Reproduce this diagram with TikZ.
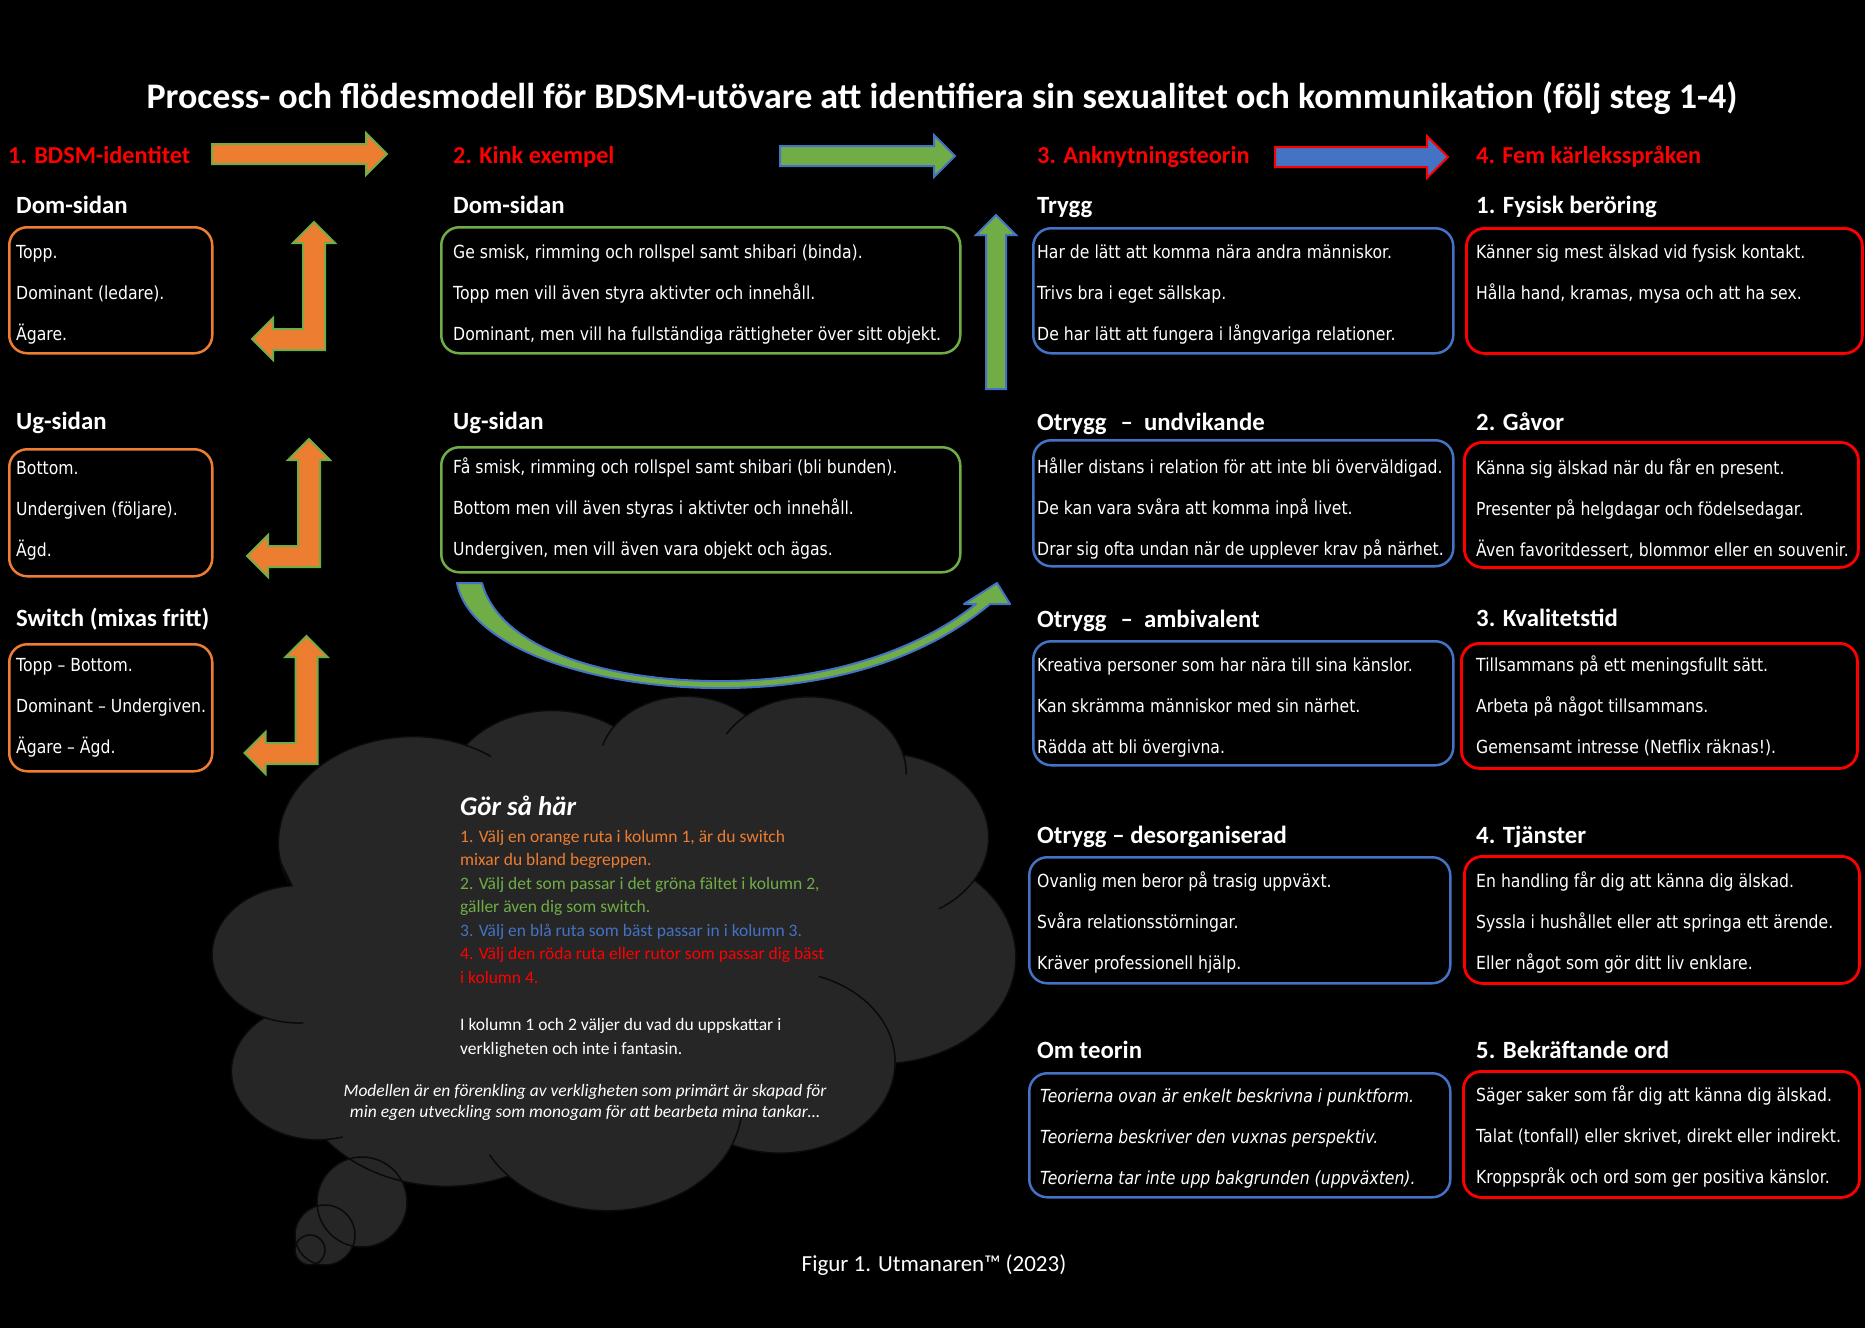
\documentclass[tikz,border=0pt]{standalone}
\usepackage{fontspec}
\setmainfont{Carlito}
\newfontfamily\bxf{DejaVu Sans}[FakeStretch=0.87]
\usetikzlibrary{calc}
\definecolor{orC}{HTML}{ED7D31}
\definecolor{grC}{HTML}{70AD47}
\definecolor{blC}{HTML}{4472C4}
\definecolor{rdC}{HTML}{FF0000}
\definecolor{clC}{HTML}{262626}
\definecolor{clL}{HTML}{0A0A0A}
\newcommand\threelines[6]{%
  \node[btxt] (#1a) at (#2,#3) {#4};
  \node[btxt] (#1b) at (#2,#3+41) {#5};
  \node[btxt] (#1c) at (#2,#3+82) {#6};}
\newcommand\cloudstub[6]{%
  \draw[stubline,shift={(#1,#2)}] (#5:#3 and #4) arc[start angle=#5,delta angle=#6,x radius=#3,y radius=#4];}
\begin{document}
\begin{tikzpicture}[x=1pt,y=-1pt,
  btxt/.style={text=white,font=\bxf\fontsize{18}{22}\selectfont,inner sep=0pt,anchor=base west},
  hd/.style={text=white,font=\bfseries\fontsize{24.8}{29}\selectfont,inner sep=0pt,anchor=base west},
  colhd/.style={text=rdC,font=\bfseries\fontsize{24.3}{29}\selectfont,inner sep=0pt,anchor=base west},
  ibox/.style={rounded corners=18pt,line width=2.5pt,anchor=north west,inner sep=0pt},
  blockarr/.style={line width=2pt,line join=miter},
  ctxt/.style={font=\fontsize{17.5}{21}\selectfont,inner sep=0pt,anchor=base west},
  itxt/.style={font=\itshape\fontsize{17.5}{21}\selectfont,inner sep=0pt,anchor=base,text=white},
  stubline/.style={draw=clL,line width=1.5pt},
  cloudfill/.style={fill=clC},
]
\fill[black] (0,0) rectangle (1865,1328);
\useasboundingbox (0,0) rectangle (1865,1328);

% ---------- cloud (thought bubble) ----------
\fill[clC] (362,1202) circle (45);
\fill[clC] (325,1235) circle (30);
\fill[clC] (310,1250) circle (15);
\begin{scope}[shift={(203,696)},x=1.99pt,y=-1.157pt]
\path[cloudfill,draw=clL,line width=1.5pt] (39,143.7)
  arc[start angle=-190.49,delta angle=123.78,x radius=67.53,y radius=91.90]
  arc[start angle=-144.10,delta angle=89.95,x radius=53.33,y radius=72.67]
  arc[start angle=-145.81,delta angle=99.72,x radius=43.65,y radius=59.45]
  arc[start angle=-130.99,delta angle=117.24,x radius=48.57,y radius=65.95]
  arc[start angle=-78.71,delta angle=109.03,x radius=53.33,y radius=72.73]
  arc[start angle=-46.27,delta angle=130.27,x radius=67.75,y radius=92.20]
  arc[start angle=0.625,delta angle=114.03,x radius=57.85,y radius=78.67]
  arc[start angle=22.45,delta angle=115.17,x radius=67.52,y radius=92.15]
  arc[start angle=66.24,delta angle=75.71,x radius=77.20,y radius=105.43]
  arc[start angle=-274.94,delta angle=146.74,x radius=43.60,y radius=59.18]
  arc[start angle=-246.83,delta angle=152.52,x radius=43.45,y radius=59.45]
  -- cycle;
\cloudstub{48.02}{223.19}{43.45}{59.45}{86.74}{26.43}
\cloudstub{57.88}{324.35}{43.60}{59.18}{73.61}{11.45}
\cloudstub{203.41}{352.72}{67.52}{92.15}{137.62}{14.08}
\cloudstub{203.41}{352.72}{67.52}{92.15}{6.45}{16.0}
\cloudstub{289.95}{316.41}{57.85}{78.67}{-70.29}{70.92}
\cloudstub{341.53}{122.26}{53.33}{72.73}{30.32}{27.75}
\cloudstub{304.79}{66.62}{48.57}{65.95}{-13.74}{14.86}
\cloudstub{304.79}{66.62}{48.57}{65.95}{-149.18}{18.2}
\cloudstub{242.65}{59.68}{43.65}{59.45}{-163.49}{17.69}
\cloudstub{105.40}{126.97}{67.53}{91.90}{-66.71}{12.32}
\cloudstub{105.40}{126.97}{67.53}{91.90}{157.65}{11.86}
\end{scope}
\draw[stubline] (362,1202) circle (45);
\draw[stubline] (325,1235) circle (30);
\draw[stubline] (310,1250) circle (15);

% ---------- title ----------
\node[text=white,font=\bfseries\fontsize{36}{42}\selectfont,inner sep=0pt,anchor=base] (title) at (942,108)
  {Process- och flödesmodell för BDSM-utövare att identifiera sin sexualitet och kommunikation (följ steg 1-4)};

% ---------- column headers ----------
\node[colhd] (h1) at (8,163) {1. BDSM-identitet};
\node[colhd] (h2) at (453,163) {2. Kink exempel};
\node[colhd] (h3) at (1037,163) {3. Anknytningsteorin};
\node[colhd] (h4) at (1476,163) {4. Fem kärleksspråken};

% ---------- straight block arrows ----------
\filldraw[blockarr,fill=orC,draw=grC] (212,144) -- (366,144) -- (366,133) -- (387,154) -- (366,175) -- (366,164) -- (212,164) -- cycle;
\filldraw[blockarr,fill=grC,draw=blC] (780,146) -- (934,146) -- (934,135) -- (955,156) -- (934,177) -- (934,166) -- (780,166) -- cycle;
\filldraw[blockarr,fill=blC,draw=rdC] (1275,147) -- (1427,147) -- (1427,136) -- (1448,157) -- (1427,178) -- (1427,167) -- (1275,167) -- cycle;
\filldraw[blockarr,fill=grC,draw=blC] (986,389) -- (986,235) -- (976,235) -- (996,215) -- (1016,235) -- (1006,235) -- (1006,389) -- cycle;

% ---------- bent arrows ----------
\foreach \bx/\by in {314/222, 309/439, 306.5/636}{
  \filldraw[blockarr,fill=orC,draw=grC,shift={(\bx,\by)}]
    (0,0) -- (21,21) -- (11,21) -- (11,128) -- (-41,128) -- (-41,138) -- (-62,117)
    -- (-41,96) -- (-41,107) -- (-11,107) -- (-11,21) -- (-21,21) -- cycle;
}

% ---------- curved arrow ----------
\filldraw[blockarr,fill=grC,draw=blC,line join=round]
  (457,583) .. controls (470,650) and (600,690) .. (730,688)
  .. controls (850,686) and (935,650) .. (990,604)
  -- (1010,604) -- (997,583) -- (964,604) -- (976,604)
  .. controls (925,645) and (840,679) .. (730,681)
  .. controls (610,683) and (500,650) .. (482,583) -- cycle;

% ---------- column 1 ----------
\node[hd] (s11) at (16,213) {Dom-sidan};
\node[ibox,draw=orC,minimum width=203pt,minimum height=126pt] (b11) at (8,226) {};
\threelines{t11}{16}{258}{Topp.}{Dominant (ledare).}{Ägare.}
\node[hd] (s12) at (16,429) {Ug-sidan};
\node[ibox,draw=orC,minimum width=203pt,minimum height=127pt] (b12) at (8,448) {};
\threelines{t12}{16}{474}{Bottom.}{Undergiven (följare).}{Ägd.}
\node[hd] (s13) at (16,626) {Switch (mixas fritt)};
\node[ibox,draw=orC,minimum width=203pt,minimum height=127pt] (b13) at (8,643) {};
\threelines{t13}{16}{671}{Topp – Bottom.}{Dominant – Undergiven.}{Ägare – Ägd.}

% ---------- column 2 ----------
\node[hd] (s21) at (453,213) {Dom-sidan};
\node[ibox,draw=grC,minimum width=519pt,minimum height=126pt] (b21) at (440,226) {};
\threelines{t21}{453}{258}{Ge smisk, rimming och rollspel samt shibari (binda).}{Topp men vill även styra aktivter och innehåll.}{Dominant, men vill ha fullständiga rättigheter över sitt objekt.}
\node[hd] (s22) at (453,429) {Ug-sidan};
\node[ibox,draw=grC,minimum width=519pt,minimum height=125pt] (b22) at (440,446) {};
\threelines{t22}{453}{473}{Få smisk, rimming och rollspel samt shibari (bli bunden).}{Bottom men vill även styras i aktivter och innehåll.}{Undergiven, men vill även vara objekt och ägas.}

% ---------- column 3 ----------
\node[hd] (s31) at (1037,213) {Trygg};
\node[ibox,draw=blC,minimum width=420pt,minimum height=125pt] (b31) at (1032,227) {};
\threelines{t31}{1037}{258}{Har de lätt att komma nära andra människor.}{Trivs bra i eget sällskap.}{De har lätt att fungera i långvariga relationer.}
\node[hd] (s32) at (1037,430) {Otrygg\hspace{14pt}–\hspace{11pt}undvikande};
\node[ibox,draw=blC,minimum width=420pt,minimum height=126pt] (b32) at (1032,439) {};
\threelines{t32}{1037}{473}{Håller distans i relation för att inte bli överväldigad.}{De kan vara svåra att komma inpå livet.}{Drar sig ofta undan när de upplever krav på närhet.}
\node[hd] (s33) at (1037,627) {Otrygg\hspace{14pt}–\hspace{11pt}ambivalent};
\node[ibox,draw=blC,minimum width=420pt,minimum height=124pt] (b33) at (1032,640) {};
\threelines{t33}{1037}{671}{Kreativa personer som har nära till sina känslor.}{Kan skrämma människor med sin närhet.}{Rädda att bli övergivna.}
\node[hd] (s34) at (1037,843) {Otrygg – desorganiserad};
\node[ibox,draw=blC,minimum width=421pt,minimum height=126pt] (b34) at (1028,856) {};
\threelines{t34}{1037}{887}{Ovanlig men beror på trasig uppväxt.}{Svåra relationsstörningar.}{Kräver professionell hjälp.}
\node[hd] (s35) at (1037,1058) {Om teorin};
\node[ibox,draw=blC,minimum width=421pt,minimum height=124pt] (b35) at (1028,1072) {};
\threelines{t35}{1040}{1102}{\itshape Teorierna ovan är enkelt beskrivna i punktform.}{\itshape Teorierna beskriver den vuxnas perspektiv.}{\itshape Teorierna tar inte upp bakgrunden (uppväxten).}

% ---------- column 4 ----------
\node[hd] (s41) at (1476,213) {1. Fysisk beröring};
\node[ibox,draw=rdC,line width=2.8pt,minimum width=396pt,minimum height=125pt] (b41) at (1465,227) {};
\threelines{t41}{1476}{258}{Känner sig mest älskad vid fysisk kontakt.}{Hålla hand, kramas, mysa och att ha sex.}{}
\node[hd] (s42) at (1476,430) {2. Gåvor};
\node[ibox,draw=rdC,line width=2.8pt,minimum width=394pt,minimum height=125pt] (b42) at (1463,441) {};
\threelines{t42}{1476}{474}{Känna sig älskad när du får en present.}{Presenter på helgdagar och födelsedagar.}{Även favoritdessert, blommor eller en souvenir.}
\node[hd] (s43) at (1476,626) {3. Kvalitetstid};
\node[ibox,draw=rdC,line width=2.8pt,minimum width=396pt,minimum height=125pt] (b43) at (1460,642) {};
\threelines{t43}{1476}{671}{Tillsammans på ett meningsfullt sätt.}{Arbeta på något tillsammans.}{Gemensamt intresse (Netflix räknas!).}
\node[hd] (s44) at (1476,843) {4. Tjänster};
\node[ibox,draw=rdC,line width=2.8pt,minimum width=395pt,minimum height=127pt] (b44) at (1463,855) {};
\threelines{t44}{1476}{887}{En handling får dig att känna dig älskad.}{Syssla i hushållet eller att springa ett ärende.}{Eller något som gör ditt liv enklare.}
\node[hd] (s45) at (1476,1058) {5. Bekräftande ord};
\node[ibox,draw=rdC,line width=2.8pt,minimum width=396pt,minimum height=126pt] (b45) at (1462,1070) {};
\threelines{t45}{1476}{1101}{Säger saker som får dig att känna dig älskad.}{Talat (tonfall) eller skrivet, direkt eller indirekt.}{Kroppspråk och ord som ger positiva känslor.}

% ---------- cloud text ----------
\node[text=white,font=\bfseries\itshape\fontsize{27}{32}\selectfont,inner sep=0pt,anchor=base west] (gor) at (460,815) {Gör så här};
\node[ctxt,text=orC] (c1) at (460,842) {1. Välj en orange ruta i kolumn 1, är du switch};
\node[ctxt,text=orC] (c2) at (460,865) {mixar du bland begreppen.};
\node[ctxt,text=grC] (c3) at (460,889) {2. Välj det som passar i det gröna fältet i kolumn 2,};
\node[ctxt,text=grC] (c4) at (460,912) {gäller även dig som switch.};
\node[ctxt,text=blC] (c5) at (460,936) {3. Välj en blå ruta som bäst passar in i kolumn 3.};
\node[ctxt,text=rdC] (c6) at (460,959) {4. Välj den röda ruta eller rutor som passar dig bäst};
\node[ctxt,text=rdC] (c7) at (460,983) {i kolumn 4.};
\node[ctxt,text=white] (c8) at (460,1030) {I kolumn 1 och 2 väljer du vad du uppskattar i};
\node[ctxt,text=white] (c9) at (460,1054) {verkligheten och inte i fantasin.};
\node[itxt] (c10) at (585,1096) {Modellen är en förenkling av verkligheten som primärt är skapad för};
\node[itxt] (c11) at (585,1117) {min egen utveckling som monogam för att bearbeta mina tankar…};

% ---------- caption ----------
\node[text=white,font=\fontsize{23}{27}\selectfont,inner sep=0pt,anchor=base] (cap) at (934,1271) {Figur 1. Utmanaren™ (2023)};
\end{tikzpicture}
\end{document}
